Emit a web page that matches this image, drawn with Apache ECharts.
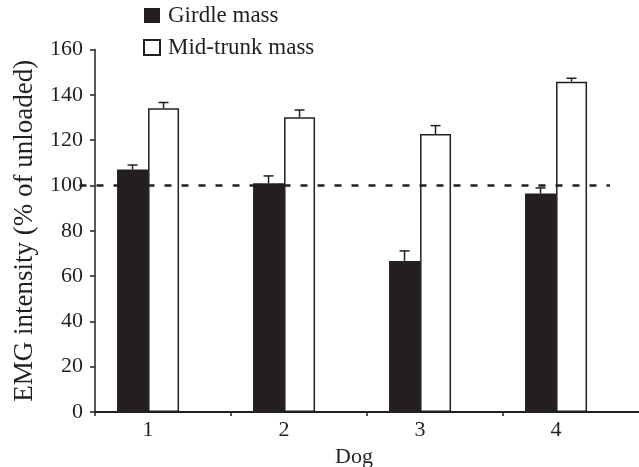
<!DOCTYPE html>
<html>
<head>
<meta charset="utf-8">
<title>EMG intensity</title>
<script src="https://cdn.jsdelivr.net/npm/echarts@6/dist/echarts.min.js"></script>
<style>
  html, body { margin: 0; padding: 0; background: #fff; }
  #chart { width: 639px; height: 467px; }
</style>
</head>
<body>
<div id="chart"></div>
<script>
// dogs and where each group sits on the x axis (ticks are at 0,1,2,3)
const dogs = ['1', '2', '3', '4']
const dogPos = [0.39, 1.39, 2.39, 3.39]
const xTicks = [0, 1, 2, 3]

const girdle = [107, 101, 66.7, 96.4]
const girdleErr = [2, 3.2, 4.4, 2.5]
const midTrunk = [134.1, 130.1, 122.7, 145.8]
const midTrunkErr = [2.5, 3.2, 3.7, 1.5]

const refLine = 100
const yTicks = [0, 20, 40, 60, 80, 100, 120, 140, 160]

const ink = '#231f20'
const font = '"Liberation Serif", "Times New Roman", serif'
const BAR_W = 31

const myChart = echarts.init(document.getElementById('chart'), null, { renderer: 'canvas' })

const errSeries = (vals, errs, side, name) => ({
  type: 'custom',
  name: name,
  z: 5,
  silent: true,
  data: vals.map((v, i) => [dogPos[i], v, v + errs[i]]),
  renderItem: function (params, api) {
    const lo = api.coord([api.value(0), api.value(1)])
    const hi = api.coord([api.value(0), api.value(2)])
    const x = lo[0] + side * BAR_W / 2
    return {
      type: 'group',
      children: [
        { type: 'line', shape: { x1: x, y1: lo[1], x2: x, y2: hi[1] }, style: { stroke: ink, lineWidth: 1.5 } },
        { type: 'line', shape: { x1: x - 5, y1: hi[1], x2: x + 5, y2: hi[1] }, style: { stroke: ink, lineWidth: 1.5 } }
      ]
    }
  }
})

myChart.setOption({
  animation: false,
  textStyle: { fontFamily: font, color: ink },
  legend: {
    orient: 'vertical',
    left: 143,
    top: 4,
    padding: 0,
    itemWidth: 16,
    itemHeight: 15,
    itemGap: 9,
    icon: 'rect',
    data: ['Girdle mass', 'Mid-trunk mass'],
    textStyle: { fontFamily: font, fontSize: 23, color: ink, padding: [0, 0, 0, 3] }
  },
  // keep the plot box where it is, even if the names reach the edge
  grid: { left: 95, right: 0, top: 49.5, bottom: 55, containLabel: false, outerBoundsMode: 'none' },
  xAxis: {
    type: 'value',
    min: 0,
    max: 4,
    name: 'Dog',
    nameLocation: 'middle',
    nameGap: 30,
    nameTextStyle: { fontFamily: font, fontSize: 22, color: ink, padding: [0, 26, 0, 0] },
    splitLine: { show: false },
    axisLine: { show: true, lineStyle: { color: ink, width: 2 } },
    axisTick: { show: true, length: 4, customValues: xTicks, lineStyle: { color: ink, width: 1.5 } },
    axisLabel: {
      customValues: dogPos,
      margin: 7,
      fontFamily: font,
      fontSize: 22,
      color: ink,
      formatter: function (v) {
        const i = dogPos.indexOf(v)
        return i >= 0 ? dogs[i] : ''
      }
    }
  },
  yAxis: {
    type: 'value',
    min: 0,
    max: 160,
    interval: 20,
    name: 'EMG intensity (% of unloaded)',
    nameLocation: 'middle',
    nameGap: 57,
    nameTextStyle: { fontFamily: font, fontSize: 27, color: ink },
    splitLine: { show: false },
    axisLine: { show: true, lineStyle: { color: ink, width: 1.5 } },
    axisTick: { show: true, length: 5, customValues: yTicks, lineStyle: { color: ink, width: 1.5 } },
    axisLabel: { margin: 12, fontFamily: font, fontSize: 22, color: ink }
  },
  series: [
    {
      name: 'Girdle mass',
      type: 'bar',
      barWidth: BAR_W,
      barGap: '0%',
      data: girdle.map((v, i) => [dogPos[i], v]),
      itemStyle: { color: ink, borderWidth: 0 },
      markLine: {
        silent: true,
        symbol: 'none',
        label: { show: false },
        lineStyle: { color: ink, width: 2.5, type: [7, 10] },
        data: [[{ coord: [0, refLine] }, { coord: [3.9, refLine] }]]
      }
    },
    {
      name: 'Mid-trunk mass',
      type: 'bar',
      barWidth: BAR_W,
      barGap: '0%',
      data: midTrunk.map((v, i) => [dogPos[i], v]),
      itemStyle: { color: '#ffffff', borderColor: ink, borderWidth: 1.5 }
    },
    errSeries(girdle, girdleErr, -1, 'girdleErr'),
    errSeries(midTrunk, midTrunkErr, 1, 'midErr')
  ]
})
</script>
</body>
</html>
